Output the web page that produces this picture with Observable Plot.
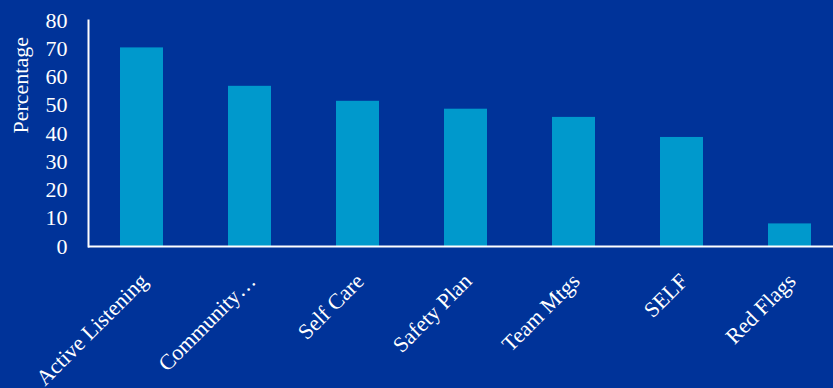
<!DOCTYPE html>
<html>
<head>
<meta charset="utf-8">
<script src="https://cdn.jsdelivr.net/npm/d3@7"></script>
<script src="https://cdn.jsdelivr.net/npm/@observablehq/plot@0.6"></script>
<style>
  html, body { margin: 0; padding: 0; background: #003399; overflow: hidden; }
  #chart svg { display: block; }
</style>
</head>
<body>
<div id="chart"></div>
<script>
const categories = ["Active Listening", "Community…", "Self Care", "Safety Plan", "Team Mtgs", "SELF", "Red Flags"];
const values = [70.3, 56.7, 51.4, 48.6, 45.7, 38.6, 8.0];
const yTicks = [0, 10, 20, 30, 40, 50, 60, 70, 80];

const data = categories.map((c, i) => ({category: c, value: values[i]}));

const W = 833, H = 388;
const font = "'Liberation Serif', 'Times New Roman', serif";

const chart = Plot.plot({
  width: W,
  height: H,
  marginLeft: 88,
  marginRight: 0,
  marginTop: 20,
  marginBottom: 142,
  style: {background: "#003399", color: "white", fontFamily: font, fontSize: "22px", overflow: "visible"},
  x: {type: "band", domain: categories, range: [88, 844], paddingInner: 0.6, paddingOuter: 0.3, align: 0.5, axis: null},
  y: {domain: [0, 80], axis: null},
  marks: [
    Plot.barY(data, {x: "category", y: "value", fill: "#0099cc", inset: 0}),
    Plot.frame({anchor: "left", stroke: "white", strokeWidth: 2}),
    Plot.ruleY([0], {stroke: "white", strokeWidth: 2}),
    Plot.axisY({ticks: yTicks, tickSize: 0, tickPadding: 21, fill: "white", fontSize: 22, fontFamily: font, label: null}),
    Plot.text(["Percentage"], {frameAnchor: "left", dx: -68, rotate: -90, fill: "white", fontSize: 22, fontFamily: font}),
    Plot.text(data, {x: "category", y: 0, text: "category", rotate: -45, textAnchor: "end", lineAnchor: "top", dx: -4, dy: 25, fill: "white", fontSize: 22, fontFamily: font})
  ]
});
document.getElementById("chart").appendChild(chart);
</script>
</body>
</html>
